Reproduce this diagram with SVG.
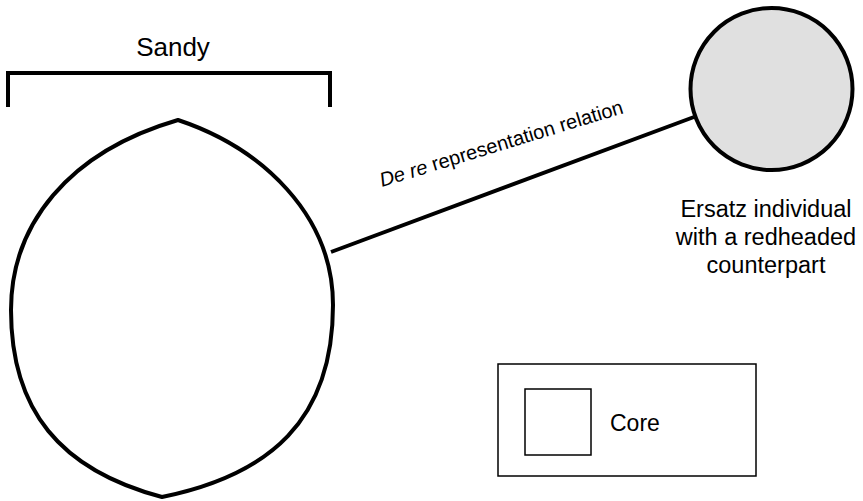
<svg xmlns="http://www.w3.org/2000/svg" width="863" height="501" viewBox="0 0 863 501">
<style>
text{font-family:"Liberation Sans",Arial,sans-serif;fill:#000}
.thick{fill:none;stroke:#000;stroke-width:4}
.thin{fill:#fff;stroke:#000;stroke-width:1.5}
</style>
<rect width="863" height="501" fill="#fff"/>
<g id="sandy">
<text x="173" y="56" font-size="26" text-anchor="middle">Sandy</text>
<path class="thick" d="M8,107 V73 H330 V107" stroke-width="3"/>
<path class="thick" fill="#fff" d="M178,120 C262,148 333,215 333,305 C333,420 270,475 162,497 C60,470 11,410 11,310 C11,225 68,152 178,120 Z"/>
</g>
<g id="connectors">
<line class="thick" x1="331" y1="252" x2="694" y2="117"/>
<text transform="translate(382,187) rotate(-17)" font-size="20"><tspan font-style="italic">De re</tspan> representation relation</text>
</g>
<g id="ersatz">
<circle cx="771.5" cy="89" r="81" fill="#e0e0e0" stroke="#000" stroke-width="4"/>
<text font-size="23.5" text-anchor="middle"><tspan x="766" y="217">Ersatz individual</tspan><tspan x="766" y="245">with a redheaded</tspan><tspan x="766" y="273">counterpart</tspan></text>
</g>
<g id="legend">
<rect class="thin" x="498" y="364" width="258" height="112"/>
<rect class="thin" x="525" y="389" width="66" height="66"/>
<text x="610" y="431" font-size="23">Core</text>
</g>
</svg>
